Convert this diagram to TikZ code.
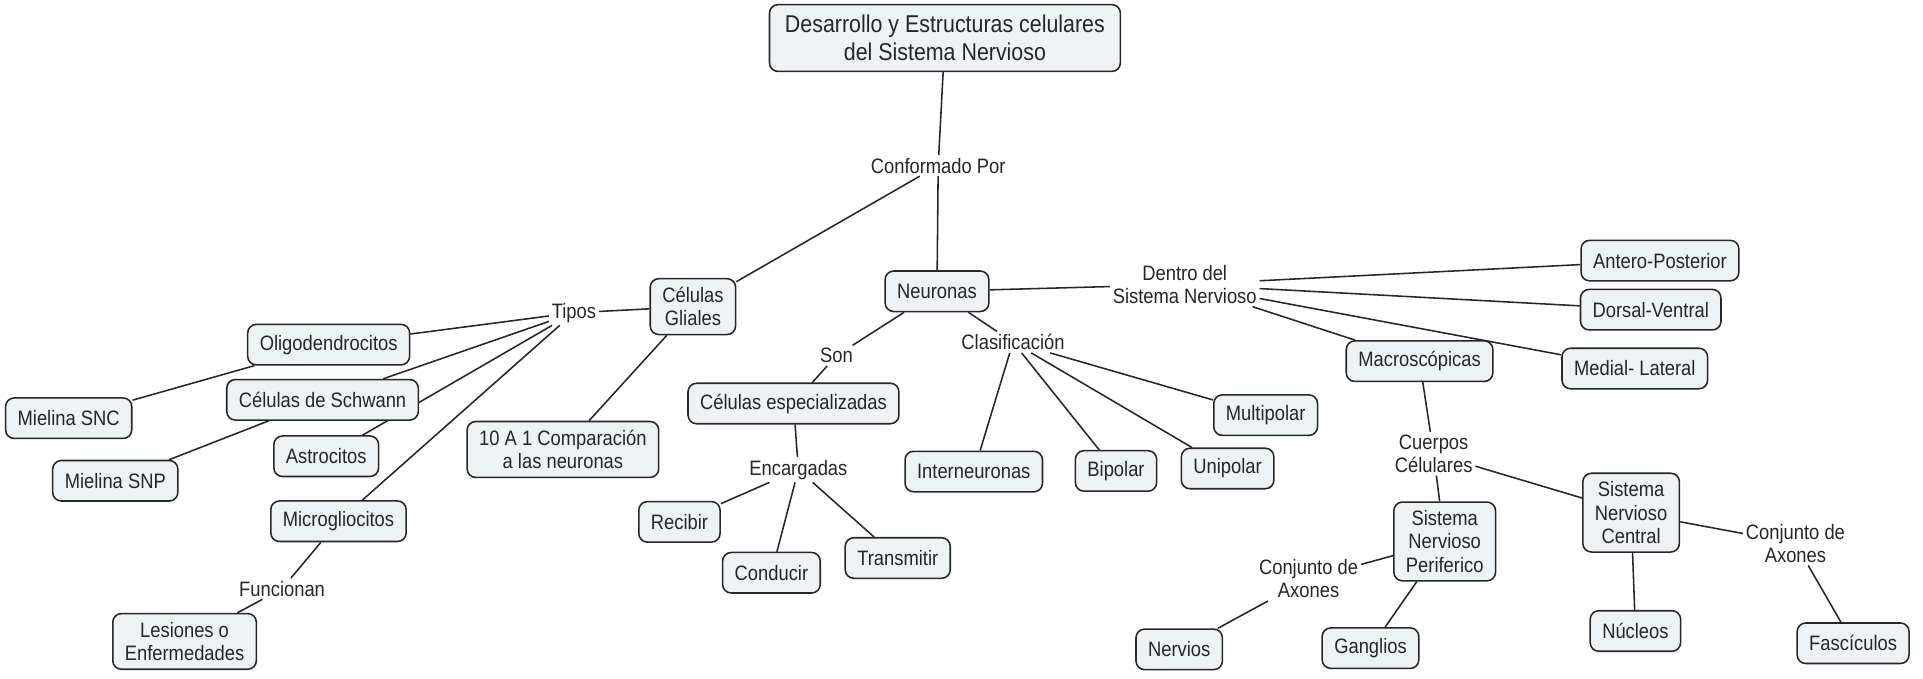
\documentclass[tikz,border=0pt]{standalone}
\usepackage{fontspec}
\setmainfont[FakeStretch=0.88]{Liberation Sans}
\usetikzlibrary{backgrounds}
\definecolor{boxfill}{HTML}{EDF2F5}
\definecolor{inkgray}{HTML}{262626}
\tikzset{
  concept/.style={draw=inkgray, fill=boxfill, rounded corners=5pt, line width=0.9pt,
    align=center, inner xsep=7pt, inner ysep=5pt, minimum height=23.5pt,
    text=inkgray, font=\fontsize{12.1pt}{13.4pt}\selectfont},
  linkw/.style={align=center, inner sep=1.5pt, text=inkgray,
    font=\fontsize{12.1pt}{13.4pt}\selectfont},
  cline/.style={draw=inkgray, line width=0.9pt}
}

\begin{document}
\begin{tikzpicture}[x=0.025cm, y=-0.025cm]
    \useasboundingbox (0,0) rectangle (1568,553);

    % main concept
    \node[concept, font=\fontsize{14.1pt}{16.4pt}\selectfont, inner xsep=9pt, inner ysep=6pt] (title) at (770.5,31) {Desarrollo y Estructuras celulares\\del Sistema Nervioso};
    \node[linkw] (conf) at (765,135) {Conformado Por};

    % glial cells
    \node[concept] (glial) at (565,250) {Células\\Gliales};
    \node[linkw] (tipos) at (468,255) {Tipos};
    \node[concept] (oligo) at (268,281) {Oligodendrocitos};
    \node[concept] (msnc) at (56,341) {Mielina SNC};
    \node[concept] (schw) at (263,326) {Células de Schwann};
    \node[concept] (astro) at (266,372) {Astrocitos};
    \node[concept] (msnp) at (94,392) {Mielina SNP};
    \node[concept] (comp) at (459,366.5) {10 A 1 Comparación\\a las neuronas};
    \node[concept] (micro) at (276,425) {Microgliocitos};
    \node[linkw] (func) at (230,480) {Funcionan};
    \node[concept] (lesi) at (150.5,523) {Lesiones o\\Enfermedades};

    % neurons
    \node[concept] (neur) at (764,237.5) {Neuronas};
    \node[linkw] (son) at (682,290) {Son};
    \node[concept] (cesp) at (647,329) {Células especializadas};
    \node[linkw] (encarg) at (651,383) {Encargadas};
    \node[concept] (recib) at (554,425.5) {Recibir};
    \node[concept] (condu) at (629,467) {Conducir};
    \node[concept] (trans) at (732,455) {Transmitir};
    \node[linkw] (clasif) at (826,279) {Clasificación};
    \node[concept] (inter) at (794,384.5) {Interneuronas};
    \node[concept] (bipol) at (910,384) {Bipolar};
    \node[concept] (unipol) at (1001,382) {Unipolar};
    \node[concept] (multi) at (1032,338.5) {Multipolar};

    % inside the nervous system
    \node[linkw] (dentro) at (966,232) {Dentro del\\Sistema Nervioso};
    \node[concept] (antero) at (1353.5,212.5) {Antero-Posterior};
    \node[concept] (dorsal) at (1346,252.5) {Dorsal-Ventral};
    \node[concept] (medial) at (1333,300.5) {Medial- Lateral};
    \node[concept] (macro) at (1157.5,294.5) {Macroscópicas};
    \node[linkw] (cuerp) at (1169,370) {Cuerpos\\Célulares};
    \node[concept] (perif) at (1178,441.5) {Sistema\\Nervioso\\Periferico};
    \node[concept] (central) at (1330,418) {Sistema\\Nervioso\\Central};
    \node[linkw] (conjL) at (1067,472) {Conjunto de\\Axones};
    \node[linkw] (conjR) at (1464,443) {Conjunto de\\Axones};
    \node[concept] (nerv) at (961.5,529.5) {Nervios};
    \node[concept] (gangl) at (1117.5,528.5) {Ganglios};
    \node[concept] (nucl) at (1333.5,514.5) {Núcleos};
    \node[concept] (fasc) at (1511,524.5) {Fascículos};

    % connectors, behind the boxes
    \begin{scope}[on background layer]
        \draw[cline] (title) -- (conf);
        \draw[cline] (conf) -- (glial);
        \draw[cline] (conf) -- (neur);
        \draw[cline] (glial) -- (tipos);
        \foreach \n in {oligo,schw,astro,micro}
            \draw[cline] (tipos) -- (\n);
        \draw[cline] (oligo) -- (msnc);
        \draw[cline] (schw) -- (msnp);
        \draw[cline] (glial) -- (comp);
        \draw[cline] (micro) -- (func) -- (lesi);
        \draw[cline] (neur) -- (son) -- (cesp) -- (encarg);
        \foreach \n in {recib,condu,trans}
            \draw[cline] (encarg) -- (\n);
        \draw[cline] (neur) -- (clasif);
        \foreach \n in {inter,bipol,unipol,multi}
            \draw[cline] (clasif) -- (\n);
        \draw[cline] (neur) -- (dentro);
        \foreach \n in {antero,dorsal,medial,macro}
            \draw[cline] (dentro) -- (\n);
        \draw[cline] (macro) -- (cuerp);
        \draw[cline] (cuerp) -- (perif);
        \draw[cline] (cuerp) -- (central);
        \draw[cline] (perif) -- (conjL) -- (nerv);
        \draw[cline] (perif) -- (gangl);
        \draw[cline] (central) -- (nucl);
        \draw[cline] (central) -- (conjR) -- (fasc);
    \end{scope}
\end{tikzpicture}
\end{document}
